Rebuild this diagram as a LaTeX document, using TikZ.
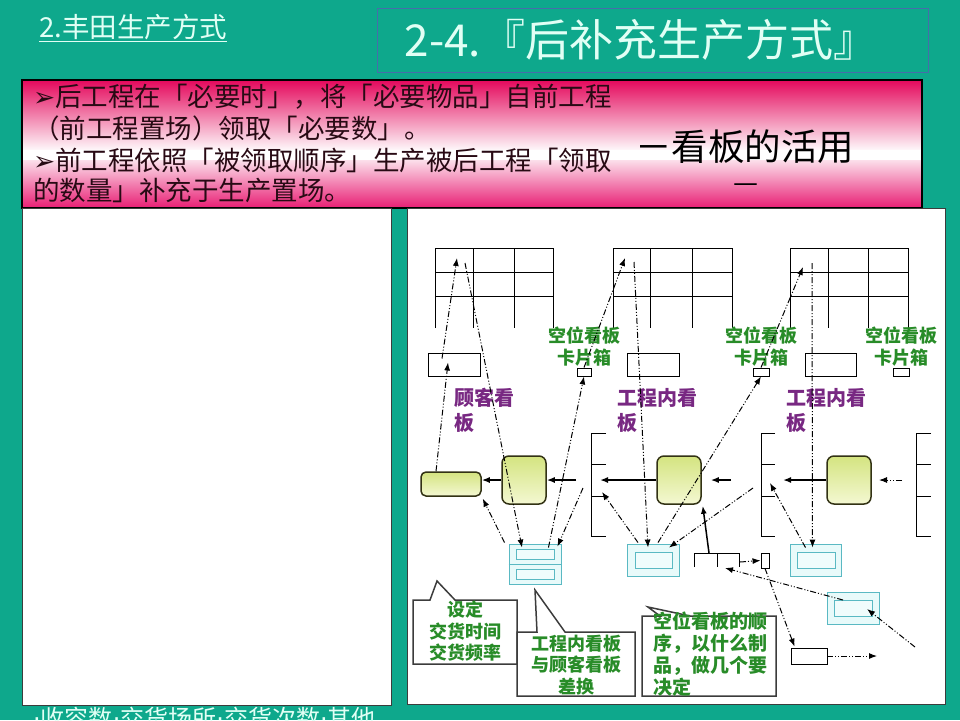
\documentclass[tikz,border=0pt]{standalone}
\usepackage{fontspec}
\setmainfont{Noto Sans CJK SC}
\newfontfamily\dejavu{DejaVu Sans}
\usetikzlibrary{arrows.meta,calc}
\definecolor{tealbg}{RGB}{14,168,140}
\definecolor{titlec}{RGB}{225,255,245}
\definecolor{boxblue}{RGB}{70,110,170}
\definecolor{pinkA}{RGB}{228,8,92}
\definecolor{pinkB}{RGB}{232,30,115}
\definecolor{pinkL}{RGB}{242,140,180}
\definecolor{darktext}{RGB}{40,10,20}
\definecolor{greenc}{RGB}{40,140,40}
\definecolor{purp}{RGB}{120,40,130}
\definecolor{postc}{RGB}{90,185,195}
\definecolor{postf}{RGB}{232,250,250}
\definecolor{postf2}{RGB}{240,252,252}
\definecolor{pgA}{RGB}{212,228,128}
\definecolor{pgB}{RGB}{244,248,210}
\definecolor{procedge}{RGB}{50,50,20}
\definecolor{panelc}{RGB}{60,60,60}
\tikzset{
  procbox/.style={draw=procedge, line width=1.5pt, rounded corners=7pt, top color=pgA, bottom color=pgB, inner sep=0},
  wbox/.style={draw=black, line width=0.9pt, fill=white, inner sep=0},
  postout/.style={draw=postc, line width=0.9pt, fill=postf, inner sep=0},
  postin/.style={draw=postc, line width=0.9pt, fill=postf2, inner sep=0},
  ddarr/.style={line width=1pt, dash pattern=on 6pt off 2pt on 1pt off 2pt on 1pt off 2pt, -{Latex[length=8pt,width=6pt]}},
  solarr/.style={line width=1.5pt, -{Latex[length=8pt,width=6pt]}},
  gridline/.style={line width=1pt},
  greenlbl/.style={text=greenc, font=\fontsize{18}{22}\selectfont\bfseries, align=center, inner sep=0},
  purplelbl/.style={text=purp, font=\fontsize{20}{25}\selectfont\bfseries, align=left, inner sep=0, anchor=west},
  pinktxt/.style={anchor=west, text=darktext, font=\fontsize{26.5}{30}\selectfont, inner sep=0},
  calloutbox/.style={draw=panelc, line width=1.5pt, fill=white, line join=miter},
  callouttxt/.style={text=greenc, font=\fontsize{18}{21.5}\selectfont\bfseries, inner sep=0}
}
\begin{document}
\begin{tikzpicture}[x=1pt,y=-1pt]
\useasboundingbox (0,0) rectangle (960,720);
\fill[tealbg] (0,0) rectangle (960,720);
% header
\node[anchor=west, text=titlec, font=\fontsize{27.5}{30}\selectfont, inner sep=0] (sect) at (39,28) {\underline{2.丰田生产方式}};
\node[draw=boxblue, line width=1pt, minimum width=551, minimum height=64, inner sep=0] (titlebox) at (652.5,40) {};
\node[text=titlec, font=\fontsize{44}{48}\selectfont, inner sep=0] (titletxt) at (641,40) {2-4.『后补充生产方式』};
% pink box
\shade[top color=pinkA, middle color=pinkL, bottom color=white] (22,80) rectangle (922,152);
\shade[top color=white, bottom color=pinkB] (22,152) rectangle (922,208);
\fill[white] (22,150) rectangle (922,160);
\draw[line width=1.2pt] (22,80) rectangle (922,208);
\node[pinktxt] (t1) at (33,97) {{\dejavu ➢}后工程在「必要时」，将「必要物品」自前工程};
\node[pinktxt] (t2) at (33,128) {（前工程置场）领取「必要数」。};
\node[pinktxt] (t3) at (33,160) {{\dejavu ➢}前工程依照「被领取顺序」生产被后工程「领取};
\node[pinktxt] (t4) at (33,190) {的数量」补充于生产置场。};
\node[anchor=west, text=black, font=\fontsize{36.5}{40}\selectfont, inner sep=0] (kanban) at (635,147) {－看板的活用};
\node[text=black, font=\fontsize{28}{30}\selectfont, inner sep=0] (dash2) at (746,188) {—};
% panels
\draw[fill=white, draw=panelc, line width=1pt] (22,208) rectangle (391,705);
\draw[fill=white, draw=panelc, line width=1pt] (407,208) rectangle (945,704);
\node[anchor=west, text=titlec, font=\fontsize{24}{26}\selectfont, inner sep=0] (bottomtxt) at (33,718) {{\dejavu ·}收容数{\dejavu ·}交货场所{\dejavu ·}交货次数{\dejavu ·}其他};
% grids
\draw[gridline] (435,328) -- (435,248) -- (553,248) -- (553,328);
\draw[gridline] (435,272) -- (553,272) (435,296) -- (553,296) (473,248) -- (473,328) (514,248) -- (514,328);
\draw[gridline] (613,328) -- (613,248) -- (732,248) -- (732,328);
\draw[gridline] (613,272) -- (732,272) (613,296) -- (732,296) (650,248) -- (650,328) (692,248) -- (692,328);
\draw[gridline] (790,328) -- (790,248) -- (908,248) -- (908,328);
\draw[gridline] (790,272) -- (908,272) (790,296) -- (908,296) (828,248) -- (828,328) (868,248) -- (868,328);
% stores below grids
\node[wbox, minimum width=52, minimum height=23] (r1) at (454,364.5) {};
\node[wbox, minimum width=52, minimum height=23] (r2) at (653,364.5) {};
\node[wbox, minimum width=51, minimum height=23] (r3) at (830.5,364.5) {};
\node[wbox, minimum width=14, minimum height=8] (ka) at (584,372) {};
\node[wbox, minimum width=16, minimum height=8] (kb) at (761,372) {};
\node[wbox, minimum width=16, minimum height=8] (kc) at (901,372) {};
\node[greenlbl] (gl1) at (584,347) {空位看板\\卡片箱};
\node[greenlbl] (gl2) at (761,347) {空位看板\\卡片箱};
\node[greenlbl] (gl3) at (901,347) {空位看板\\卡片箱};
\node[purplelbl] (pl1) at (454,410.5) {顾客看\\板};
\node[purplelbl] (pl2) at (617,410.5) {工程内看\\板};
\node[purplelbl] (pl3) at (786,410.5) {工程内看\\板};
% brackets
\draw[gridline] (606,433) -- (591,433) -- (591,536) -- (606,536) (591,464) -- (606,464) (591,496) -- (606,496);
\draw[gridline] (775,433) -- (761,433) -- (761,536) -- (775,536) (761,464) -- (775,464) (761,496) -- (775,496);
\draw[gridline] (931,433) -- (916,433) -- (916,536) -- (931,536) (916,464) -- (931,464) (916,496) -- (931,496);
% processes
\node[procbox, minimum width=60, minimum height=24, rounded corners=5pt] (P1) at (451,484) {};
\node[procbox, minimum width=44, minimum height=48] (P2) at (524,480) {};
\node[procbox, minimum width=44, minimum height=48] (P3) at (679,480) {};
\node[procbox, minimum width=44, minimum height=48] (P4) at (849,480) {};
% kanban posts
\node[postout, minimum width=52, minimum height=40] (K1) at (535,564) {};
\draw[postc, line width=0.9pt] (K1.west) -- (K1.east);
\node[postin, minimum width=38, minimum height=10] (K1a) at (535,554) {};
\node[postin, minimum width=38, minimum height=10] (K1b) at (535,574) {};
\node[postout, minimum width=52, minimum height=32] (K2) at (653,560) {};
\node[postin, minimum width=37, minimum height=16] (K2a) at (653.5,560) {};
\node[postout, minimum width=51, minimum height=32] (K3) at (815.5,560) {};
\node[postin, minimum width=38, minimum height=16] (K3a) at (816,560) {};
\node[postout, minimum width=52, minimum height=32] (K4) at (853,608) {};
\node[postin, minimum width=38, minimum height=16] (K4a) at (853,608) {};
% comb, small rects
\draw[gridline] (694,567) -- (694,553) -- (739,553) -- (739,567) (717,553) -- (717,567);
\node[wbox, minimum width=8, minimum height=15] (sr) at (765,560.5) {};
\node[wbox, minimum width=36, minimum height=16] (br) at (809,656) {};
% callouts
\draw[calloutbox] (413,600) -- (430,600) -- (437,581) -- (455,600) -- (517,600) -- (517,664) -- (413,664) -- cycle;
\node[callouttxt, align=center] (c1) at (465,631.5) {设定\\交货时间\\交货频率};
\draw[calloutbox] (517,632) -- (537,632) -- (535,590) -- (565,632) -- (635,632) -- (635,696) -- (517,696) -- cycle;
\node[callouttxt, align=center] (c2) at (576,665) {工程内看板\\与顾客看板\\差换};
\draw[calloutbox] (642,616) -- (660,616) -- (648,607) -- (690,616) -- (776,616) -- (776,696) -- (642,696) -- cycle;
\node[callouttxt, align=left, anchor=north west, font=\fontsize{19}{22}\selectfont\bfseries] (c3) at (653,612) {空位看板的顺\\序，以什么制\\品，做几个要\\决定};
% coordinates
\coordinate (g1a) at (457,258);
\coordinate (g1b) at (465,263);
\coordinate (g2a) at (625,258);
\coordinate (g2b) at (634,262);
\coordinate (g3a) at (803,267);
\coordinate (g3b) at (812,263);
\coordinate (in1) at (576,480);
\coordinate (b1in) at (600,480);
\coordinate (in2) at (731,480);
\coordinate (b2in) at (783,480);
\coordinate (in3) at (902,480);
\coordinate (p4tip) at (879,480);
\coordinate (combtop) at (709,553);
\coordinate (b1dot) at (583,488);
\coordinate (b1arr) at (602,492);
\coordinate (b2dot) at (753,488);
\coordinate (b2arr) at (770,483);
\coordinate (combarr) at (725,568);
\coordinate (combr) at (740,562);
\coordinate (k4src) at (915,647);
\coordinate (brout) at (877,656);
% solid arrows
\draw[solarr] (P2.west) -- (P2.west -| P1.east);
\draw[solarr] (in1) -- (P2.east);
\draw[solarr] (P3.west) -- (b1in);
\draw[solarr] (in2) -- ($(P3.east)+(9,0)$);
\draw[solarr] (P4.west) -- (b2in);
\draw[ddarr] (in3) -- (p4tip);
\draw[solarr] (combtop) -- ($(P3.south east)+(1,1)$);
% dash-dot arrows
\draw[ddarr] ($(P1.north)+(-15,0)$) -- ($(r1.center)+(-6,-2)$);
\draw[ddarr] ($(r1.center)+(-12,-6)$) -- (g1a);
\draw[ddarr] (g1b) -- ($(K1.north)+(-13,4)$);
\draw[ddarr] ($(K1.north west)+(-4,-1)$) -- ($(P1.south east)+(1,2)$);
\draw[ddarr] ($(K1.north east)+(-13,4)$) -- (ka.south);
\draw[ddarr] (ka.north) -- (g2a);
\draw[ddarr] (b1dot) -- ($(K1.north east)+(-4,3)$);
\draw[ddarr] (g2b) -- ($(K2.north)+(-5,4)$);
\draw[ddarr] ($(K2.north)+(-15,-1)$) -- (b1arr);
\draw[ddarr] ($(K2.north)+(5,-1)$) -- (kb.south);
\draw[ddarr] (kb.north) -- (g3a);
\draw[ddarr] (b2dot) -- ($(K2.north)+(16,4)$);
\draw[ddarr] (g3b) -- ($(K3.north)+(-3,4)$);
\draw[ddarr] ($(K3.north)+(-10,4)$) -- (b2arr);
\draw[ddarr] (k4src) -- ($(K4.center)+(14,1)$);
\draw[ddarr] ($(K4.center)+(-10,-8)$) -- (combarr);
\draw[ddarr] (combr) -- (sr.west);
\draw[ddarr] (sr.south) -- ($(br.north west)+(4,-1)$);
\draw[ddarr] (br.east) -- (brout);
\end{tikzpicture}
\end{document}
